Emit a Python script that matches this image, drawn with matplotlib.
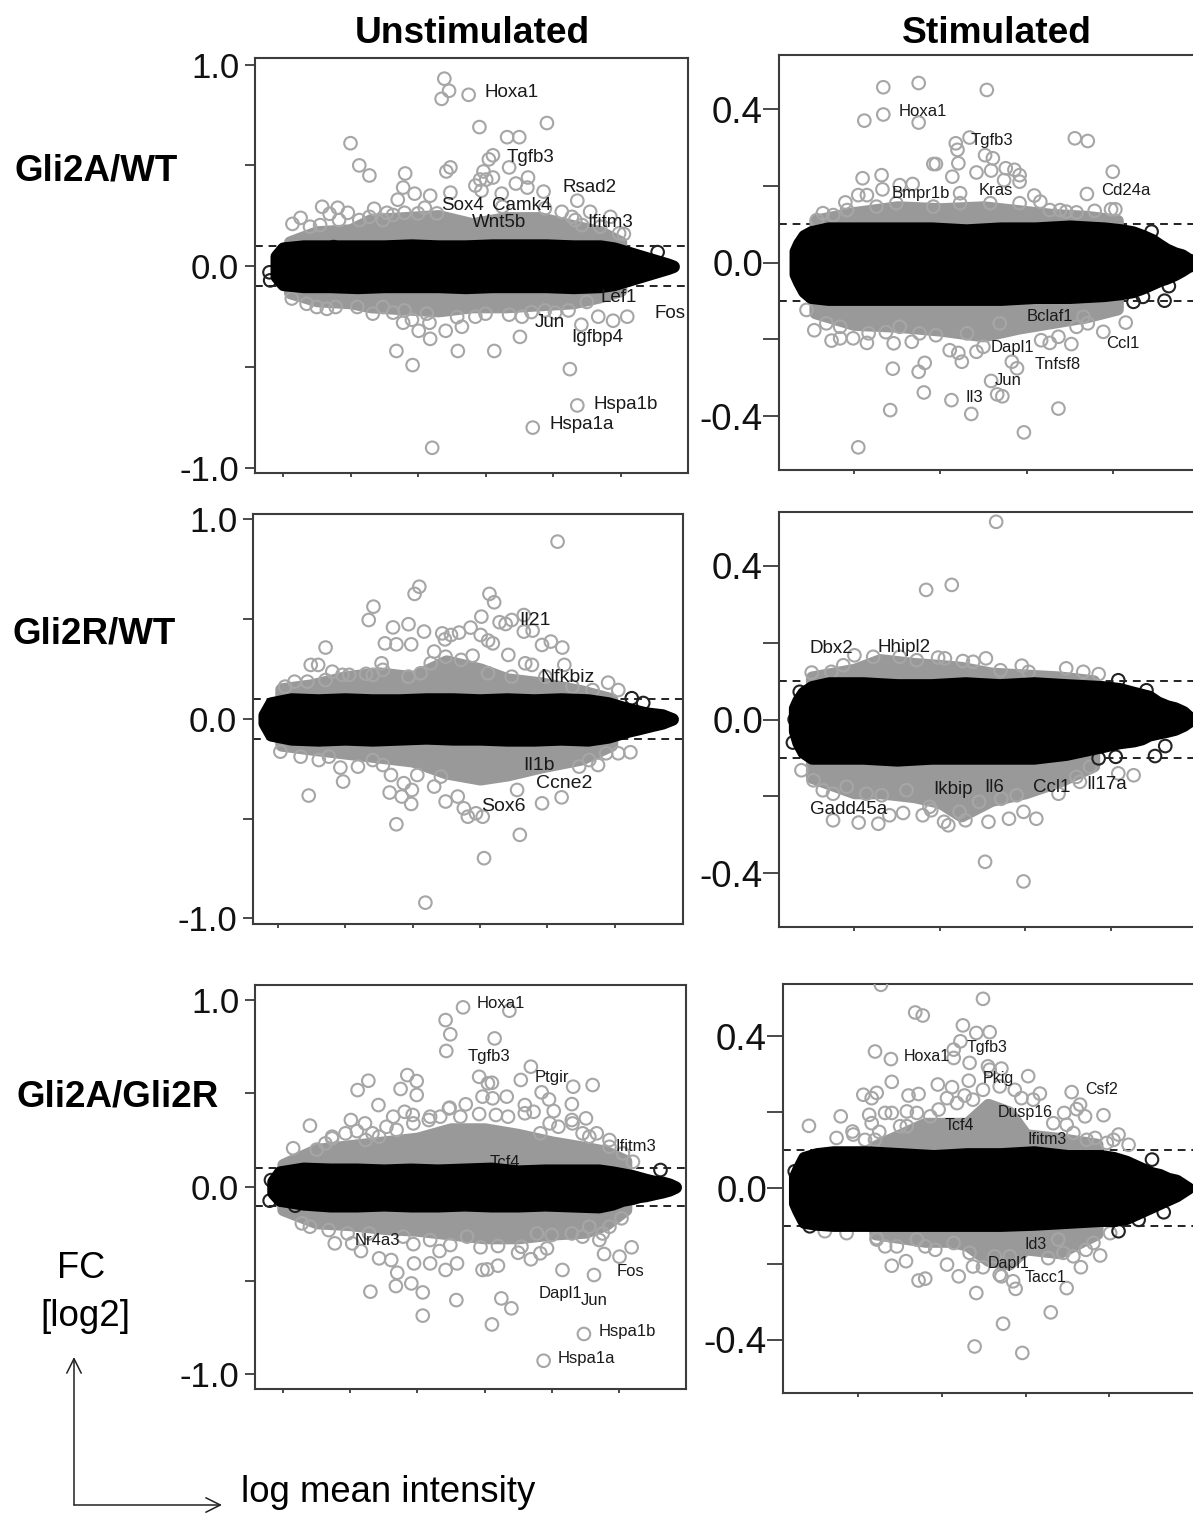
"""MA plots of Gli2 genotypes, unstimulated and stimulated."""

import matplotlib

matplotlib.use("Agg")
import matplotlib.pyplot as plt
from matplotlib.patches import FancyArrowPatch

plt.rcParams["font.family"] = ["Liberation Sans", "DejaVu Sans"]

W, H = 1193, 1513
GRAY = "#a6a6a6"
FILL = "#999999"
EDGE = "#3c3c3c"

# Gli2A/WT unstimulated
p1_out_x = [2.39, 2.46, 2.35, 2.75, 2.91, 3.91, 3.32, 3.50, 1.0, 3.11, 3.05, 3.35, 1.13, 1.28, 1.81, 2.48, 2.42, 2.97,
            3.11, 3.01, 2.92, 2.85, 3.63, 3.45, 3.62, 1.78, 1.95, 2.18, 2.48, 2.94, 3.86, 1.70, 3.24, 4.36, 0.58, 0.81,
            0.96, 0.69, 0.26, 0.14, 1.35, 2.10, 1.54, 1.80, 4.13, 4.55, 4.28, 4.85, 5.05,
            1.68, 1.92, 2.18, 2.59, 3.13, 3.51, 4.25, 4.36, 3.70, 2.21, 2.01, 1.78, 1.91, 2.17, 2.41, 2.65, 3.54, 4.42,
            4.67, 4.89, 5.10, 1.33, 0.13, 1.63, 2.85, 3.35, 4.03]
p1_out_y = [0.93, 0.87, 0.83, 0.85, 0.69, 0.71, 0.64, 0.64, 0.61, 0.55, 0.53, 0.49, 0.50, 0.45, 0.46, 0.49, 0.47, 0.47,
            0.44, 0.43, 0.43, 0.40, 0.44, 0.41, 0.39, 0.39, 0.36, 0.35, 0.365, 0.375, 0.37, 0.33, 0.36, 0.325, 0.295,
            0.29, 0.265, 0.26, 0.24, 0.21, 0.285, 0.29, 0.265, 0.265, 0.27, 0.27, 0.245, 0.245, 0.16,
            -0.42, -0.49, -0.36, -0.42, -0.42, -0.35, -0.51, -0.69, -0.80, -0.90, -0.32, -0.28, -0.265, -0.28, -0.32,
            -0.30, -0.25, -0.29, -0.25, -0.27, -0.25, -0.235, -0.16, -0.23, -0.25, -0.24, -0.23]
p1_edge_x = [0.4, 0.55, 0.83, 1.13, 1.28, 1.48, 1.63, 2.0, 2.28, 3.25, 3.88, 4.33, 4.43, 4.7, 4.98,
             0.35, 0.5, 0.65, 0.78, 1.1, 1.48, 1.8, 2.13, 2.58, 3.0, 3.68, 3.88, 4.23, 4.5]
p1_edge_y = [0.196, 0.204, 0.229, 0.229, 0.245, 0.229, 0.254, 0.262, 0.262, 0.295, 0.287, 0.229, 0.204, 0.196, 0.163,
             -0.186, -0.202, -0.211, -0.202, -0.202, -0.202, -0.219, -0.235, -0.252, -0.235, -0.227, -0.219, -0.219, -0.177]
p1_dark_x = [5.55, -0.2, -0.19, 0.75]
p1_dark_y = [0.07, -0.03, -0.07, 0.095]
p1_gray_x = [0.1, 0.5, 1.0, 1.3, 1.8, 2.3, 2.8, 3.3, 3.8, 4.3, 4.7, 5.0]
p1_gray_hi = [0.12, 0.17, 0.18, 0.23, 0.24, 0.25, 0.21, 0.24, 0.24, 0.20, 0.17, 0.12]
p1_gray_lo = [-0.13, -0.17, -0.18, -0.20, -0.21, -0.22, -0.20, -0.20, -0.19, -0.18, -0.15, -0.12]
p1_black_x = [-0.1, 0.0, 0.3, 0.7, 1.1, 1.5, 1.9, 2.3, 2.7, 3.1, 3.5, 3.9, 4.3, 4.7, 4.9, 5.05, 5.2, 5.3, 5.4, 5.5, 5.6, 5.7, 5.78]
p1_black_hi = [0.05, 0.09, 0.10, 0.10, 0.10, 0.10, 0.105, 0.10, 0.10, 0.105, 0.105, 0.105, 0.10, 0.10, 0.09, 0.075, 0.06, 0.05, 0.04, 0.03, 0.02, 0.01, 0.0]
p1_black_lo = [-0.05, -0.09, -0.10, -0.10, -0.105, -0.10, -0.10, -0.10, -0.105, -0.10, -0.10, -0.10, -0.105, -0.10, -0.09, -0.075, -0.06, -0.05, -0.04, -0.03, -0.02, -0.01, 0.0]
p1_genes = ["Hoxa1", "Tgfb3", "Rsad2", "Sox4", "Camk4", "Wnt5b", "Ifitm3", "Lef1", "Fos", "Jun", "Igfbp4", "Hspa1b", "Hspa1a"]
p1_gene_x = [3.39, 3.67, 4.54, 2.66, 3.53, 3.2, 4.85, 4.98, 5.73, 3.96, 4.65, 5.08, 4.42]
p1_gene_y = [0.86, 0.54, 0.39, 0.30, 0.30, 0.217, 0.217, -0.156, -0.235, -0.277, -0.352, -0.683, -0.786]

# Gli2A/WT stimulated
p2_out_x = [0.75, 0.34, 1.54, 0.34, 0.12, 0.75, 1.34, 2.56, 2.71, 1.18, 1.20, 1.52, 1.61, 0.92, 0.95, 1.21, 1.42, 1.59,
            1.76, 1.86, 1.92, 3.0, 0.10, 0.32, 1.14, 1.74, 1.92, 0.33, 0.53, 0.68, 0.05, 0.15, 1.23, 2.70, 2.09, 2.16,
            -0.10, -0.36, -0.43, 2.79, 2.98, 3.03, 2.58, 2.27,
            -0.46, -0.26, -0.16, -0.01, 0.17, 0.15, 0.37, 0.46, 0.67, 0.95, 0.45, 0.75, 0.82, 0.81, 1.13, 0.42, 1.36,
            0.05, 1.97, 2.37, 1.59, 1.66, 1.72, 1.11, 1.25, 1.21, 1.42, 1.50, 1.83, 1.89, 2.17, 2.27, 2.52, 2.37, 2.89,
            3.15, 2.71]
p2_out_y = [0.468, 0.457, 0.45, 0.386, 0.37, 0.365, 0.326, 0.324, 0.317, 0.311, 0.294, 0.28, 0.272, 0.257, 0.257, 0.259,
            0.235, 0.24, 0.246, 0.242, 0.228, 0.237, 0.22, 0.228, 0.224, 0.215, 0.211, 0.191, 0.202, 0.205, 0.176, 0.176,
            0.181, 0.179, 0.175, 0.159, 0.157, 0.129, 0.111, 0.135, 0.139, 0.139, 0.131, 0.137,
            -0.176, -0.203, -0.197, -0.197, -0.184, -0.209, -0.181, -0.21, -0.206, -0.189, -0.276, -0.284, -0.261,
            -0.338, -0.358, -0.384, -0.394, -0.481, -0.442, -0.38, -0.308, -0.343, -0.348, -0.228, -0.258, -0.235,
            -0.232, -0.219, -0.258, -0.275, -0.202, -0.209, -0.212, -0.193, -0.18, -0.156, -0.158]
p2_edge_x = [-0.24, -0.08, 0.26, 0.49, 0.92, 1.23, 1.58, 1.92, 2.39, 2.46,
             -0.55, -0.32, -0.16, 0.53, 0.76, 1.31, 1.69, 2.58, 2.66]
p2_edge_y = [0.124, 0.137, 0.146, 0.155, 0.146, 0.155, 0.155, 0.155, 0.137, 0.133,
             -0.123, -0.158, -0.167, -0.167, -0.184, -0.184, -0.158, -0.167, -0.141]
p2_dark_x = [3.60, 3.65, 3.35, 3.24, 3.45]
p2_dark_y = [-0.099, -0.061, -0.089, -0.102, 0.081]
p2_gray_x = [-0.45, 0.0, 0.5, 1.0, 1.5, 1.9, 2.3, 2.7, 3.05]
p2_gray_hi = [0.11, 0.13, 0.145, 0.14, 0.145, 0.135, 0.125, 0.12, 0.11]
p2_gray_lo = [-0.13, -0.16, -0.165, -0.175, -0.19, -0.17, -0.155, -0.14, -0.12]
p2_black_x = [-0.68, -0.64, -0.58, -0.5, -0.3, 0.1, 0.5, 0.9, 1.3, 1.7, 2.1, 2.5, 2.9, 3.1, 3.23, 3.35, 3.45, 3.55, 3.62, 3.72, 3.8, 3.87, 3.93]
p2_black_hi = [0.03, 0.05, 0.07, 0.08, 0.09, 0.09, 0.09, 0.09, 0.085, 0.09, 0.09, 0.095, 0.09, 0.085, 0.08, 0.07, 0.06, 0.045, 0.035, 0.025, 0.02, 0.01, 0.005]
p2_black_lo = [-0.03, -0.05, -0.075, -0.09, -0.095, -0.095, -0.095, -0.095, -0.095, -0.095, -0.09, -0.09, -0.085, -0.08, -0.075, -0.065, -0.055, -0.045, -0.04, -0.03, -0.02, -0.01, -0.005]
p2_genes = ["Hoxa1", "Tgfb3", "Bmpr1b", "Kras", "Cd24a", "Bclaf1", "Dapl1", "Ccl1", "Tnfsf8", "Jun", "Il3"]
p2_gene_x = [0.80, 1.60, 0.77, 1.65, 3.15, 2.27, 1.84, 3.12, 2.36, 1.79, 1.40]
p2_gene_y = [0.395, 0.317, 0.181, 0.188, 0.187, -0.139, -0.221, -0.21, -0.265, -0.308, -0.352]

# Gli2R/WT unstimulated
p3_out_x = [4.15, 2.10, 2.03, 3.14, 3.21, 1.42, 1.35, 3.02, 1.94, 1.71, 2.17, 3.29, 3.38, 3.65, 3.47, 3.65, 3.78, 2.86,
            2.69, 2.57, 2.44, 2.48, 3.01, 3.19, 3.12, 3.92, 4.05, 4.22, 1.98, 1.59, 1.76, 0.71, 3.42, 2.89, 2.32, 2.49,
            0.49, 0.60, 1.54, 3.67, 3.77, 4.25, 0.81, 1.31, 2.12, 1.06, 0.25, 4.90, 5.05,
            0.46, 0.97, 0.93, 1.19, 1.68, 1.87, 1.66, 1.84, 1.99, 1.98, 1.76, 2.32, 2.49, 2.67, 2.76, 2.82, 2.94, 3.04,
            3.59, 3.06, 2.19, 3.92, 4.21, 3.55, 4.75, 5.05, 5.23, 0.04, 1.41]
p3_out_y = [0.889, 0.663, 0.627, 0.627, 0.585, 0.563, 0.496, 0.513, 0.475, 0.459, 0.438, 0.485, 0.476, 0.521, 0.496,
            0.438, 0.443, 0.458, 0.433, 0.421, 0.429, 0.399, 0.421, 0.379, 0.393, 0.371, 0.388, 0.358, 0.374, 0.379,
            0.374, 0.358, 0.321, 0.317, 0.338, 0.312, 0.271, 0.271, 0.279, 0.279, 0.271, 0.271, 0.237, 0.226, 0.229,
            0.221, 0.187, 0.182, 0.145,
            -0.384, -0.314, -0.244, -0.239, -0.281, -0.322, -0.369, -0.389, -0.356, -0.426, -0.528, -0.339, -0.414,
            -0.389, -0.448, -0.49, -0.473, -0.49, -0.581, -0.698, -0.921, -0.423, -0.393, -0.356, -0.231, -0.172,
            -0.167, -0.164, -0.206]
p3_edge_x = [0.11, 0.44, 0.71, 0.96, 1.41, 1.56, 1.94, 2.27, 2.72, 3.12, 3.47, 3.97, 4.37, 4.67,
             0.34, 0.61, 0.76, 1.56, 2.07, 2.42, 4.47, 4.62, 4.87]
p3_edge_y = [0.162, 0.187, 0.195, 0.221, 0.221, 0.246, 0.212, 0.279, 0.296, 0.229, 0.212, 0.212, 0.162, 0.145,
             -0.189, -0.206, -0.189, -0.231, -0.281, -0.289, -0.239, -0.206, -0.172]
p3_dark_x = [5.25, 5.42]
p3_dark_y = [0.104, 0.08]
p3_gray_x = [0.05, 0.5, 1.0, 1.5, 2.0, 2.5, 3.0, 3.4, 3.9, 4.5, 4.95]
p3_gray_hi = [0.15, 0.17, 0.21, 0.23, 0.21, 0.29, 0.25, 0.20, 0.18, 0.14, 0.10]
p3_gray_lo = [-0.13, -0.15, -0.17, -0.19, -0.21, -0.27, -0.30, -0.28, -0.24, -0.20, -0.13]
p3_black_x = [-0.2, -0.1, 0.2, 0.6, 1.0, 1.4, 1.8, 2.2, 2.6, 3.0, 3.4, 3.8, 4.2, 4.6, 4.9, 5.05, 5.2, 5.33, 5.45, 5.57, 5.7, 5.85]
p3_black_hi = [0.02, 0.08, 0.10, 0.095, 0.10, 0.095, 0.095, 0.10, 0.10, 0.095, 0.10, 0.095, 0.10, 0.095, 0.08, 0.065, 0.05, 0.04, 0.03, 0.025, 0.02, 0.0]
p3_black_lo = [-0.02, -0.08, -0.10, -0.105, -0.10, -0.105, -0.10, -0.095, -0.10, -0.10, -0.105, -0.105, -0.10, -0.105, -0.09, -0.075, -0.06, -0.05, -0.04, -0.03, -0.02, 0.0]
p3_genes = ["Il21", "Nfkbiz", "Il1b", "Ccne2", "Sox6"]
p3_gene_x = [3.81, 4.30, 3.88, 4.25, 3.34]
p3_gene_y = [0.496, 0.209, -0.231, -0.322, -0.439]

# Gli2R/WT stimulated
p4_out_x = [1.66, 1.14, 0.84, -0.50, 1.96, 2.48, 2.68, 2.86, 1.54, 1.71, 1.27, 1.39, 1.06, 0.98, 0.0, 2.04,
            1.53, 1.98, 3.27, 3.09, 2.13, 1.98, 1.81, 1.57, 1.30, 1.10, 1.05, 0.57, 0.80, 0.90, 0.41, 0.28, 0.05, -0.25,
            0.32, -0.37, -0.62, 1.46, 1.72, 2.39, 2.64]
p4_out_y = [0.514, 0.35, 0.337, 0.122, 0.14, 0.133, 0.124, 0.118, 0.159, 0.128, 0.152, 0.15, 0.159, 0.161, 0.167, 0.124,
            -0.37, -0.421, -0.145, -0.14, -0.258, -0.24, -0.258, -0.266, -0.262, -0.275, -0.266, -0.243, -0.249, -0.236,
            -0.249, -0.271, -0.268, -0.262, -0.197, -0.184, -0.132, -0.214, -0.206, -0.193, -0.162]
p4_edge_x = [-0.27, -0.13, 0.22, 0.53, 0.73,
             -0.48, -0.25, -0.09, 0.14, 0.61, 0.88, 1.23, 1.9, 2.6, 2.76]
p4_edge_y = [0.124, 0.141, 0.163, 0.163, 0.154,
             -0.158, -0.193, -0.175, -0.193, -0.184, -0.227, -0.24, -0.197, -0.149, -0.123]
p4_dark_x = [3.52, 3.64, 3.06, 2.86, 3.42, 3.09, -0.64, -0.70, -0.72]
p4_dark_y = [-0.095, -0.069, -0.097, -0.101, 0.076, 0.102, 0.072, 0.0, -0.06]
p4_gray_x = [-0.5, 0.0, 0.3, 0.7, 1.0, 1.25, 1.6, 2.0, 2.4, 2.8]
p4_gray_hi = [0.11, 0.13, 0.155, 0.145, 0.14, 0.135, 0.12, 0.115, 0.11, 0.10]
p4_gray_lo = [-0.15, -0.19, -0.19, -0.20, -0.215, -0.25, -0.21, -0.19, -0.16, -0.12]
p4_black_x = [-0.7, -0.66, -0.6, -0.5, -0.3, 0.1, 0.5, 0.9, 1.3, 1.7, 2.1, 2.48, 2.9, 3.1, 3.27, 3.36, 3.45, 3.55, 3.66, 3.75, 3.85, 3.95]
p4_black_hi = [0.03, 0.05, 0.07, 0.085, 0.095, 0.095, 0.09, 0.09, 0.095, 0.09, 0.095, 0.09, 0.085, 0.08, 0.07, 0.065, 0.06, 0.045, 0.035, 0.03, 0.02, 0.0]
p4_black_lo = [-0.03, -0.06, -0.085, -0.10, -0.10, -0.10, -0.105, -0.10, -0.10, -0.10, -0.10, -0.09, -0.07, -0.06, -0.055, -0.05, -0.04, -0.035, -0.03, -0.025, -0.015, 0.0]
p4_genes = ["Dbx2", "Hhipl2", "Ikbip", "Il6", "Ccl1", "Il17a", "Gadd45a"]
p4_gene_x = [-0.27, 0.58, 1.15, 1.64, 2.31, 2.95, -0.07]
p4_gene_y = [0.185, 0.186, -0.181, -0.177, -0.177, -0.168, -0.234]

# Gli2A/Gli2R unstimulated
p5_out_x = [2.68, 3.37, 2.42, 2.49, 3.15, 2.43, 3.69, 2.92, 3.05, 3.11, 3.54, 1.85, 1.99, 1.75, 1.99, 1.27, 1.11, 4.61,
            4.32, 3.85, 3.96, 4.30, 2.97, 3.12, 3.33, 1.42, 2.72, 2.48, 3.60, 4.03, 4.51, 1.81, 1.93, 2.92, 3.17, 1.01,
            1.22, 0.40, 2.19, 1.54, 4.67, 1.10, 0.73, 4.31, 0.15, 4.86,
            1.30, 1.68, 1.91, 2.08, 2.08, 2.58, 3.11, 3.25, 3.40, 4.48, 3.88, 4.63, 4.16, 5.19, 5.01, 4.78, 3.2, 2.97,
            3.04, 2.42, 2.59, 2.19, 1.95, 1.70, 1.43, 1.61, 1.16, 0.77, 3.69, 3.93, 3.83, 3.50, 3.2, 2.94, 2.33, 1.94,
            4.71, 5.04, 4.46, 0.40]
p5_out_y = [0.96, 0.942, 0.892, 0.816, 0.794, 0.727, 0.643, 0.589, 0.554, 0.557, 0.572, 0.598, 0.566, 0.524, 0.492,
            0.568, 0.518, 0.545, 0.536, 0.506, 0.468, 0.443, 0.483, 0.474, 0.483, 0.438, 0.442, 0.424, 0.438, 0.406,
            0.367, 0.402, 0.385, 0.39, 0.385, 0.358, 0.34, 0.328, 0.376, 0.322, 0.287, 0.299, 0.26, 0.34, 0.207, 0.215,
            -0.559, -0.529, -0.515, -0.563, -0.687, -0.604, -0.734, -0.595, -0.648, -0.785, -0.928, -0.47, -0.443,
            -0.322, -0.372, -0.358, -0.42, -0.443, -0.44, -0.443, -0.408, -0.408, -0.408, -0.458, -0.381, -0.39, -0.342,
            -0.301, -0.386, -0.328, -0.354, -0.351, -0.315, -0.322, -0.342, -0.305, -0.283, -0.167, -0.265, -0.212]
p5_edge_x = [0.50, 0.63, 0.73, 0.93, 1.23, 1.33, 1.43, 1.69, 1.64, 1.94, 2.17, 2.34, 2.64, 2.47, 3.35, 3.6, 3.73, 3.97,
             4.1, 4.3, 4.46, 4.56, 4.86, 5.06, 5.21, 3.83,
             0.28, 0.68, 0.96, 1.03, 1.28, 1.79, 2.19, 2.49, 2.74, 3.55, 3.78, 4.0, 4.3, 4.56, 4.86, 4.76]
p5_edge_y = [0.2, 0.233, 0.269, 0.287, 0.251, 0.287, 0.269, 0.305, 0.376, 0.34, 0.358, 0.376, 0.376, 0.42, 0.376, 0.394,
             0.402, 0.34, 0.322, 0.358, 0.287, 0.269, 0.251, 0.18, 0.135, 0.287,
             -0.194, -0.23, -0.248, -0.301, -0.248, -0.265, -0.283, -0.31, -0.265, -0.319, -0.248, -0.256, -0.248,
             -0.212, -0.212, -0.248]
p5_dark_x = [5.62, -0.2, 0.18, -0.18]
p5_dark_y = [0.091, -0.073, -0.10, 0.037]
p5_gray_x = [0.0, 0.5, 1.0, 1.5, 2.0, 2.5, 3.0, 3.5, 4.0, 4.5, 4.8, 5.1]
p5_gray_hi = [0.12, 0.20, 0.22, 0.24, 0.26, 0.31, 0.31, 0.28, 0.24, 0.21, 0.19, 0.14]
p5_gray_lo = [-0.12, -0.19, -0.20, -0.22, -0.23, -0.25, -0.27, -0.27, -0.25, -0.24, -0.20, -0.12]
p5_black_x = [-0.15, -0.05, 0.3, 0.7, 1.1, 1.5, 1.9, 2.3, 2.7, 3.1, 3.5, 3.9, 4.3, 4.7, 4.9, 5.05, 5.2, 5.3, 5.4, 5.52, 5.65, 5.75, 5.84]
p5_black_hi = [0.03, 0.08, 0.10, 0.095, 0.095, 0.09, 0.095, 0.09, 0.095, 0.10, 0.085, 0.09, 0.09, 0.09, 0.08, 0.07, 0.06, 0.05, 0.04, 0.03, 0.025, 0.015, 0.0]
p5_black_lo = [-0.03, -0.07, -0.09, -0.10, -0.10, -0.095, -0.10, -0.10, -0.095, -0.10, -0.10, -0.095, -0.10, -0.105, -0.09, -0.07, -0.06, -0.05, -0.045, -0.035, -0.025, -0.015, 0.0]
p5_genes = ["Hoxa1", "Tgfb3", "Ptgir", "Ifitm3", "Nr4a3", "Fos", "Dapl1", "Jun", "Hspa1b", "Hspa1a"]
p5_gene_x = [3.24, 3.06, 4.00, 5.26, 1.41, 5.17, 4.13, 4.63, 5.12, 4.52]
p5_gene_y = [0.981, 0.696, 0.586, 0.215, -0.283, -0.449, -0.568, -0.604, -0.773, -0.915]

# Gli2A/Gli2R stimulated
p6_out_x = [0.27, 1.49, 0.68, 0.77, 1.25, 1.41, 1.57, 1.22, 1.14, 1.14, 0.20, 0.39, 1.33, 2.03, 1.71, 1.55, 0.40, 1.32,
            1.49, 0.95, 1.12, 0.06, 0.22, 0.16, 0.60, 0.72, 1.06, 1.27, 2.17, 2.55, 2.09, 2.65, 2.61, 2.71, 2.93, 2.46,
            -0.21, 0.13, 0.32, 0.40, 0.16, 0.58, -0.59, -0.07, 0.25, -0.26, 3.11, 2.83, 2.49, 0.58,
            1.39, 1.96, 1.73, 2.30, 1.41, 1.88, 2.49, 0.72, 0.80, 0.40, 0.57, 1.20, 1.06, 1.49, 1.37, 1.69, 2.66, 2.89,
            2.72, 2.45, 0.92, 0.32, 0.22, 2.27, -0.40]
p6_out_y = [0.536, 0.499, 0.463, 0.455, 0.429, 0.409, 0.411, 0.387, 0.365, 0.343, 0.36, 0.34, 0.33, 0.295, 0.315, 0.321,
            0.28, 0.283, 0.259, 0.273, 0.266, 0.246, 0.251, 0.237, 0.244, 0.248, 0.237, 0.244, 0.249, 0.253, 0.233, 0.22,
            0.208, 0.189, 0.192, 0.198, 0.189, 0.193, 0.198, 0.198, 0.171, 0.202, 0.164, 0.149, 0.148, 0.132, 0.141,
            0.132, 0.167, 0.163,
            -0.418, -0.435, -0.358, -0.328, -0.277, -0.266, -0.264, -0.244, -0.239, -0.205, -0.193, -0.233, -0.202,
            -0.209, -0.207, -0.229, -0.209, -0.178, -0.163, -0.171, -0.163, -0.154, -0.136, -0.185, -0.114]
p6_edge_x = [-0.06, 0.08, 0.2, 0.5, 0.7, 0.86, 0.96, 1.18, 1.37, 1.57, 1.69, 1.87, 1.95, 2.33, 2.57, 2.73, 2.97, 3.23, 3.05,
             -0.14, 0.22, 0.46, 0.7, 0.8, 1.14, 1.33, 1.63, 1.81, 1.71, 1.85, 2.57, 2.39, 2.81, 3.01]
p6_edge_y = [0.141, 0.127, 0.127, 0.163, 0.198, 0.189, 0.207, 0.224, 0.233, 0.312, 0.268, 0.259, 0.237, 0.171, 0.145,
             0.127, 0.119, 0.114, 0.127,
             -0.119, -0.132, -0.154, -0.136, -0.154, -0.145, -0.171, -0.18, -0.18, -0.233, -0.246, -0.18, -0.136, -0.145, -0.119]
p6_dark_x = [3.65, 3.51, 3.35, 3.11, -0.76, -0.74, -0.58]
p6_dark_y = [-0.064, 0.075, -0.084, -0.114, 0.044, -0.022, -0.101]
p6_gray_x = [0.2, 0.5, 0.8, 1.1, 1.3, 1.55, 1.8, 2.0, 2.4, 2.85]
p6_gray_hi = [0.11, 0.14, 0.17, 0.17, 0.17, 0.22, 0.20, 0.14, 0.13, 0.115]
p6_gray_lo = [-0.12, -0.13, -0.14, -0.14, -0.15, -0.19, -0.20, -0.16, -0.17, -0.12]
p6_black_x = [-0.76, -0.72, -0.65, -0.5, -0.3, 0.1, 0.5, 0.9, 1.3, 1.7, 2.1, 2.5, 2.9, 3.05, 3.2, 3.3, 3.4, 3.5, 3.6, 3.7, 3.8, 3.87, 3.94]
p6_black_hi = [0.03, 0.05, 0.08, 0.09, 0.095, 0.095, 0.09, 0.085, 0.09, 0.09, 0.095, 0.085, 0.085, 0.08, 0.07, 0.06, 0.05, 0.04, 0.035, 0.025, 0.02, 0.01, 0.0]
p6_black_lo = [-0.04, -0.06, -0.09, -0.095, -0.098, -0.098, -0.098, -0.098, -0.098, -0.098, -0.095, -0.09, -0.085, -0.085, -0.08, -0.07, -0.06, -0.05, -0.04, -0.03, -0.02, -0.01, 0.0]
p6_genes = ["Hoxa1", "Tgfb3", "Pkig", "Csf2", "Dusp16", "Tcf4", "Ifitm3", "Id3", "Dapl1", "Tacc1"]
p6_gene_x = [0.82, 1.54, 1.67, 2.91, 2.0, 1.21, 2.26, 2.12, 1.80, 2.24]
p6_gene_y = [0.347, 0.371, 0.29, 0.259, 0.2, 0.165, 0.127, -0.149, -0.198, -0.237]

row_labels = ["Gli2A/WT", "Gli2R/WT", "Gli2A/Gli2R"]
col_labels = ["Unstimulated", "Stimulated"]


def panel(fig, box, xlim, ylim, left_col, out, edge, dark, gray, black, genes, gene_size):
    l, t, r, b = box
    ax = fig.add_axes([l / W, 1 - b / H, (r - l) / W, (b - t) / H])
    ax.axhline(0.1, color="#222222", lw=1.4, dashes=(4, 3), zorder=1)
    ax.axhline(-0.1, color="#222222", lw=1.4, dashes=(4, 3), zorder=1)

    # the solid clouds: a thick round stroke stands in for the circle radius
    ax.fill_between(gray[0], gray[2], gray[1], facecolor=FILL, edgecolor=FILL, lw=9, joinstyle="round", zorder=2)
    ax.scatter(edge[0], edge[1], s=82, facecolors="none", edgecolors=GRAY, lw=1.5, zorder=3)
    ax.scatter(out[0], out[1], s=82, facecolors="none", edgecolors=GRAY, lw=1.5, zorder=3)

    ax.fill_between(black[0], black[2], black[1], facecolor="black", edgecolor="black", lw=9, joinstyle="round", zorder=5)
    ax.scatter(dark[0], dark[1], s=82, facecolors="none", edgecolors="#222222", lw=1.5, zorder=4)

    for name, x, y in zip(genes[0], genes[1], genes[2]):
        ax.text(x, y, name, fontsize=gene_size, color="#1a1a1a", ha="center", va="center", zorder=7)

    ax.set_xlim(xlim)
    ax.set_ylim(ylim)
    if left_col:
        ax.set_xticks([0, 1, 2, 3, 4, 5])
        ax.set_yticks([1.0, 0.5, 0.0, -0.5, -1.0])
        ax.set_yticklabels(["1.0", "", "0.0", "", "-1.0"])
        ax.tick_params(axis="y", length=7.3, width=1.3, color=EDGE, labelsize=25, pad=4, labelcolor="#111111")
    else:
        ax.set_xticks([0, 1, 2, 3])
        ax.set_yticks([0.4, 0.2, 0.0, -0.2, -0.4])
        ax.set_yticklabels(["0.4", "", "0.0", "", "-0.4"])
        ax.spines["right"].set_visible(False)
        ax.tick_params(axis="y", length=11.5, width=1.3, color=EDGE, labelsize=26.5, pad=0, labelcolor="#111111")
    ax.set_xticklabels([])
    ax.tick_params(axis="x", length=3, width=1.3, color=EDGE)
    for s in ax.spines.values():
        s.set_color(EDGE)
        s.set_linewidth(1.5)
    return ax


fig = plt.figure(figsize=(W / 100, H / 100), dpi=100)

panel(fig, (255, 58.5, 688, 473), (-0.415, 6.0), (-1.025, 1.03), True,
      (p1_out_x, p1_out_y), (p1_edge_x, p1_edge_y), (p1_dark_x, p1_dark_y), (p1_gray_x, p1_gray_hi, p1_gray_lo),
      (p1_black_x, p1_black_hi, p1_black_lo), (p1_genes, p1_gene_x, p1_gene_y), 13.5)
panel(fig, (779, 55, 1193, 470), (-0.869, 3.93), (-0.54, 0.541), False,
      (p2_out_x, p2_out_y), (p2_edge_x, p2_edge_y), (p2_dark_x, p2_dark_y), (p2_gray_x, p2_gray_hi, p2_gray_lo),
      (p2_black_x, p2_black_hi, p2_black_lo), (p2_genes, p2_gene_x, p2_gene_y), 12)
panel(fig, (253, 514.3, 683, 924), (-0.366, 6.01), (-1.028, 1.026), True,
      (p3_out_x, p3_out_y), (p3_edge_x, p3_edge_y), (p3_dark_x, p3_dark_y), (p3_gray_x, p3_gray_hi, p3_gray_lo),
      (p3_black_x, p3_black_hi, p3_black_lo), (p3_genes, p3_gene_x, p3_gene_y), 14)
panel(fig, (779, 512, 1193, 927), (-0.883, 3.965), (-0.5395, 0.5395), False,
      (p4_out_x, p4_out_y), (p4_edge_x, p4_edge_y), (p4_dark_x, p4_dark_y), (p4_gray_x, p4_gray_hi, p4_gray_lo),
      (p4_black_x, p4_black_hi, p4_black_lo), (p4_genes, p4_gene_x, p4_gene_y), 13.5)
ax5 = panel(fig, (255, 984.7, 686, 1389), (-0.418, 6.0), (-1.079, 1.081), True,
            (p5_out_x, p5_out_y), (p5_edge_x, p5_edge_y), (p5_dark_x, p5_dark_y), (p5_gray_x, p5_gray_hi, p5_gray_lo),
            (p5_black_x, p5_black_hi, p5_black_lo), (p5_genes, p5_gene_x, p5_gene_y), 12)
panel(fig, (783, 983.7, 1193, 1393.3), (-0.9, 4.0), (-0.5415, 0.5389), False,
      (p6_out_x, p6_out_y), (p6_edge_x, p6_edge_y), (p6_dark_x, p6_dark_y), (p6_gray_x, p6_gray_hi, p6_gray_lo),
      (p6_black_x, p6_black_hi, p6_black_lo), (p6_genes, p6_gene_x, p6_gene_y), 11.5)

# half hidden by the black cloud in the original
ax5.text(3.30, 0.13, "Tcf4", fontsize=12, color="#1a1a1a", ha="center", va="center", zorder=4)

# figure level labels
for name, px in zip(col_labels, [472, 997]):
    fig.text(px / W, 1 - 33.5 / H, name, fontsize=26.7, fontweight="bold", ha="center", va="center")
for name, px, py in zip(row_labels, [15, 13, 17], [171, 634, 1097]):
    fig.text(px / W, 1 - py / H, name, fontsize=26.5, fontweight="bold", ha="left", va="center")

fig.text(81 / W, 1 - 1269 / H, "FC", fontsize=26, ha="center", va="center")
fig.text(85.5 / W, 1 - 1316 / H, "[log2]", fontsize=26.5, ha="center", va="center")
fig.text(241 / W, 1 - 1493 / H, "log mean intensity", fontsize=26.3, ha="left", va="center")

origin = (74 / W, 1 - 1505 / H)
arrow = dict(arrowstyle="->", lw=1.1, color="#222222", mutation_scale=26, shrinkA=0, shrinkB=0)
fig.add_artist(FancyArrowPatch(origin, (74 / W, 1 - 1357 / H), transform=fig.transFigure, **arrow))
fig.add_artist(FancyArrowPatch(origin, (222 / W, 1 - 1505 / H), transform=fig.transFigure, **arrow))

fig.savefig("out.png", dpi=100)
plt.close(fig)
